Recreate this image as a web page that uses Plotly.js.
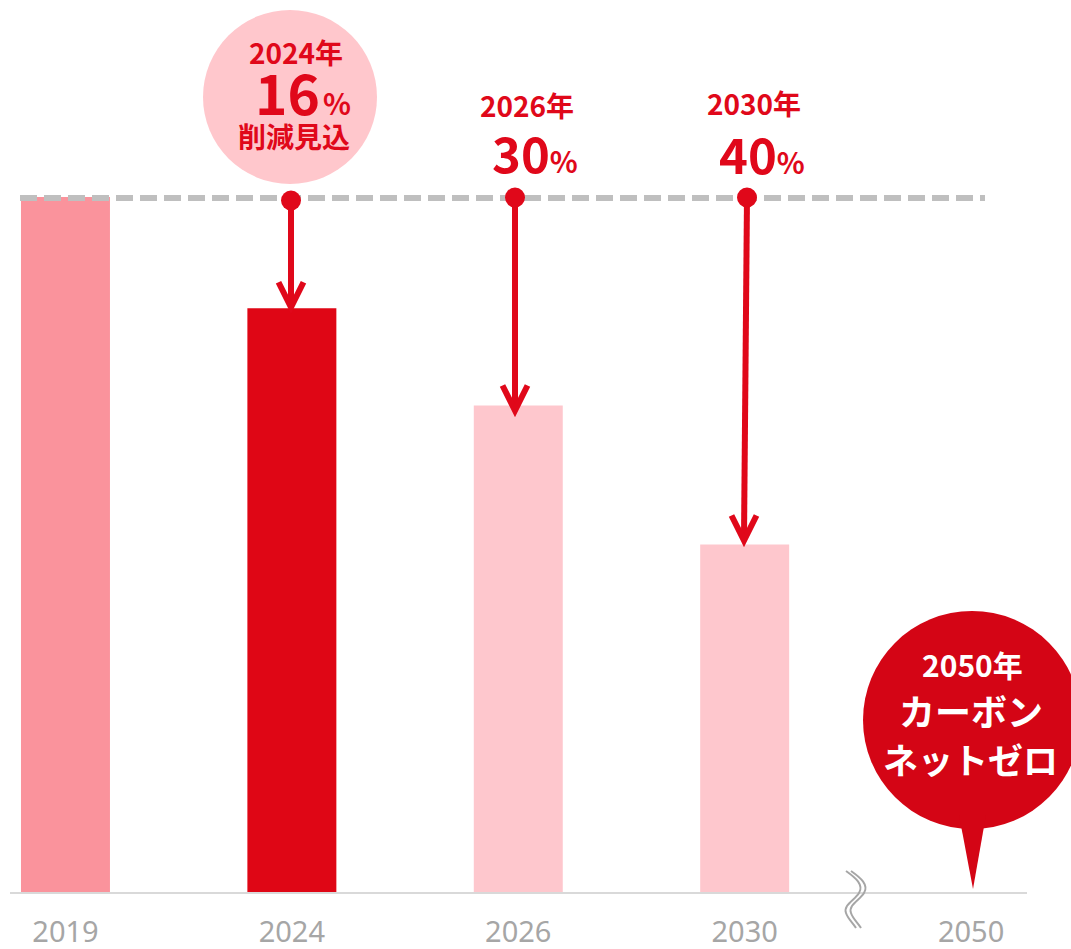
<!DOCTYPE html>
<html><head><meta charset="utf-8">
<script src="https://cdn.plot.ly/plotly-3.0.1.min.js"></script>
<style>body{margin:0;background:#fff}#c{width:1071px;height:949px}</style>
</head><body><div id="c"></div>
<script>
// ---- data ----
const years = ['2019', '2024', '2026', '2030', '2050'];
const values = [100, 84, 70, 50, 0];
const barColors = ['#FA939C', '#DF0615', '#FEC7CD', '#FEC7CD', '#FEC7CD'];
const targetYears = ['2024年', '2026年', '2030年'];
const targetPct = ['16', '30', '40'];
const targetIdx = [1, 2, 3];
const goalYear = '2050年';
const goalLines = ['カーボン', 'ネットゼロ'];
const note2024 = '削減見込';

// ---- geometry helpers ----
const W = 1071, H = 949, ML = 10, MR = 44, MT = 0, MB = 57;
const X0 = -0.245, X1 = 4.247, Y1 = 128.35;
const PW = W - ML - MR, PH = H - MT - MB;
const xpu = PW / (X1 - X0), ypu = PH / Y1;
const xp = d => ML + (d - X0) * xpu;     // data index -> pixel
const yp = d => MT + PH - d * ypu;       // data value -> pixel
const px = x => (x - ML) / PW;           // pixel -> paper
const py = y => (MT + PH - y) / PH;

const RED = '#E0081A';
const JP = 'Noto Sans CJK JP';

const shapes = [];
const annotations = [];
const P = (x, y) => `${px(x)},${py(y)}`;

// 2024 bubble
shapes.push({type: 'circle', xref: 'paper', yref: 'paper', x0: px(290 - 87), x1: px(290 + 87), y0: py(97 + 87), y1: py(97 - 87),
  fillcolor: '#FFC7CC', line: {width: 0}, layer: 'below'});

// dashed reference line at 2019 level
shapes.push({type: 'line', xref: 'paper', yref: 'paper', x0: px(20), x1: px(985), y0: py(yp(values[0]) + 1), y1: py(yp(values[0]) + 1),
  line: {color: '#BFBFBF', width: 6, dash: '17px,7px'}});

// arrows
const arrowX = [[291, 291], [515, 515], [747, 744]];
const arrowTipOff = [-1, 5, -4];
const dotOff = [3.5, 0.5, 0.5];
targetIdx.forEach((idx, k) => {
  const top = yp(values[0]) + dotOff[k];
  const tip = yp(values[idx]) + arrowTipOff[k];
  const [xa, xb] = arrowX[k];
  shapes.push({type: 'line', xref: 'paper', yref: 'paper', x0: px(xa), y0: py(top), x1: px(xb), y1: py(tip - 3),
    line: {color: RED, width: 6}});
  shapes.push({type: 'path', xref: 'paper', yref: 'paper',
    path: `M${P(xb - 12.5, tip - 25)} L${P(xb, tip)} L${P(xb + 12.5, tip - 25)}`,
    line: {color: RED, width: 6}});
  shapes.push({type: 'circle', xref: 'paper', yref: 'paper', x0: px(xa - 10), x1: px(xa + 10), y0: py(top + 10), y1: py(top - 10),
    fillcolor: RED, line: {width: 0}});
});

// 2050 bubble
shapes.push({type: 'circle', xref: 'paper', yref: 'paper', x0: px(972 - 109), x1: px(972 + 109), y0: py(720 + 109), y1: py(720 - 109),
  fillcolor: '#D40515', line: {width: 0}});
shapes.push({type: 'path', xref: 'paper', yref: 'paper',
  path: `M${P(959, 815)} L${P(986, 815)} L${P(973, 889)} Z`,
  fillcolor: '#D40515', line: {width: 0}});

// axis break
[0, 5].forEach(o => {
  const Q = (x, y) => P(x + o, y);
  shapes.push({type: 'path', xref: 'paper', yref: 'paper',
    path: `M${Q(846, 871)} C${Q(856, 878)} ${Q(864, 885)} ${Q(859, 893)} C${Q(855, 900)} ${Q(843, 905)} ${Q(846, 913)} C${Q(848, 919)} ${Q(853, 923)} ${Q(856, 928)}`,
    line: {color: '#A6A6A6', width: 2}});
});

// texts
function ann(text, x, y, size, color) {
  annotations.push({xref: 'paper', yref: 'paper', x: px(x), y: py(y), text: text, showarrow: false,
    xanchor: 'center', yanchor: 'middle',
    font: {family: JP, size: size, color: color, weight: 700}});
}
const yrPos = [[296, 52], [527, 105], [754, 103]];
const pctPos = [[303, 91], [535, 151], [762, 152]];
const pctSize = [55, 49, 49];
const pctGap = ['<span style="font-size:14px"> </span>', '', ''];
targetIdx.forEach((idx, k) => {
  ann(targetPct[k] + pctGap[k] + '<span style="font-size:29px">%</span>', pctPos[k][0], pctPos[k][1], pctSize[k], RED);
  ann(targetYears[k], yrPos[k][0], yrPos[k][1], 28, RED);
});
ann(note2024, 294, 136, 28, RED);
ann(goalYear, 972, 664, 30, '#FFFFFF');
ann(goalLines[0], 971, 710, 36, '#FFFFFF');
ann(goalLines[1], 970, 758, 35, '#FFFFFF');

const data = [
  {type: 'bar', x: years, y: values, marker: {color: barColors, line: {width: 0}}, hoverinfo: 'none'}
];

const layout = {
  width: W, height: H, margin: {l: ML, r: MR, t: MT, b: MB},
  paper_bgcolor: '#fff', plot_bgcolor: '#fff', showlegend: false, bargap: 0.607,
  xaxis: {type: 'category', range: [X0, X1], showgrid: false, zeroline: false, showline: true,
    linecolor: '#D9D9D9', linewidth: 2, ticks: 'outside', ticklen: 13, tickcolor: 'rgba(0,0,0,0)',
    tickfont: {family: 'Noto Sans', size: 29, color: '#A6A6A6'}, fixedrange: true},
  yaxis: {range: [0, Y1], visible: false, fixedrange: true},
  shapes: shapes, annotations: annotations
};
Plotly.newPlot('c', data, layout, {staticPlot: true});
</script></body></html>
